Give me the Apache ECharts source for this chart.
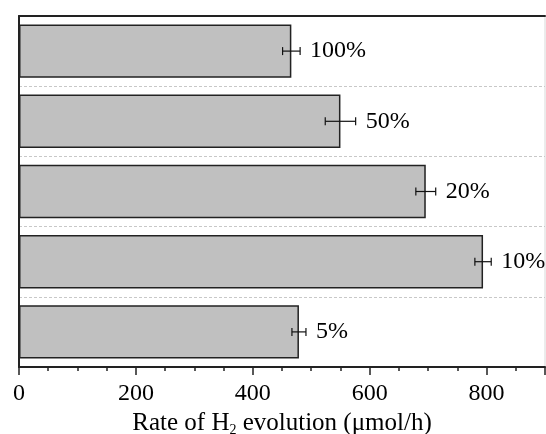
<!DOCTYPE html>
<html>
<head>
<meta charset="utf-8">
<script src="https://cdn.jsdelivr.net/npm/echarts@6/dist/echarts.min.js"></script>
<style>html,body{margin:0;padding:0;background:#fff;}#c{width:546px;height:434px;}</style>
</head>
<body>
<div id="c"></div>
<script>
var categories = ['100%', '50%', '20%', '10%', '5%'];
var rates = [466, 550, 696, 794, 479];
var errors = [15, 26, 17, 14, 12];
var xTicks = [0, 200, 400, 600, 800];

var FONT = 'Liberation Serif';
var chart = echarts.init(document.getElementById('c'), null, {renderer: 'canvas'});

var errData = rates.map(function (v, i) { return [v, i, errors[i]]; });

var option = {
  animation: false,
  backgroundColor: '#fff',
  grid: {left: 19, top: 16, right: 1, bottom: 67, outerBoundsMode: 'none', containLabel: false,
    show: true, borderColor: '#d8d8d8', borderWidth: 1},
  xAxis: [{
    type: 'value', min: 0, max: 900, interval: 200, position: 'bottom',
    axisLine: {show: true, lineStyle: {color: '#222', width: 2}},
    axisTick: {show: true, length: 8, lineStyle: {color: '#222', width: 1.5}},
    minorTick: {show: true, splitNumber: 4, length: 4, lineStyle: {color: '#222', width: 1.5}},
    splitLine: {show: false},
    axisLabel: {color: '#000', fontFamily: FONT, fontSize: 24, margin: 15,
      formatter: function (v) { return xTicks.indexOf(v) >= 0 ? String(v) : ''; }},
    name: 'Rate of H{sub|2} evolution (μmol/h)',
    nameLocation: 'middle', nameGap: 38,
    nameTextStyle: {color: '#000', fontFamily: FONT, fontSize: 25,
      rich: {sub: {fontFamily: FONT, fontSize: 14, color: '#000', verticalAlign: 'bottom', padding: [14, 0, 0, 0]}}}
  }, {
    type: 'value', min: 0, max: 900, position: 'top',
    axisLine: {show: true, lineStyle: {color: '#222', width: 2}},
    axisTick: {show: false}, axisLabel: {show: false}, splitLine: {show: false}
  }],
  yAxis: {
    type: 'category', data: categories, inverse: true,
    axisLine: {show: true, lineStyle: {color: '#222', width: 2}},
    axisTick: {show: false}, axisLabel: {show: false},
    splitLine: {show: true, lineStyle: {color: '#c8c8c8', type: [3, 2], width: 1}}
  },
  series: [{
    type: 'bar', data: rates, barCategoryGap: '24%',
    itemStyle: {color: '#c0c0c0', borderColor: '#222', borderWidth: 1.5},
    z: 2
  }, {
    type: 'custom', data: errData, z: 5,
    renderItem: function (params, api) {
      var v = api.value(0), c = api.value(1), e = api.value(2);
      var lo = api.coord([v - e, c]);
      var hi = api.coord([v + e, c]);
      var y = lo[1];
      var cap = 4;
      var st = {stroke: '#111', lineWidth: 1.2};
      return {
        type: 'group',
        children: [
          {type: 'line', shape: {x1: lo[0], y1: y, x2: hi[0], y2: y}, style: st},
          {type: 'line', shape: {x1: lo[0], y1: y - cap, x2: lo[0], y2: y + cap}, style: st},
          {type: 'line', shape: {x1: hi[0], y1: y - cap, x2: hi[0], y2: y + cap}, style: st},
          {type: 'text', style: {x: hi[0] + 10, y: y, text: categories[params.dataIndex],
            fill: '#000', font: '24px "Liberation Serif"', textAlign: 'left', textVerticalAlign: 'middle'}}
        ]
      };
    }
  }]
};
chart.setOption(option);
</script>
</body>
</html>
